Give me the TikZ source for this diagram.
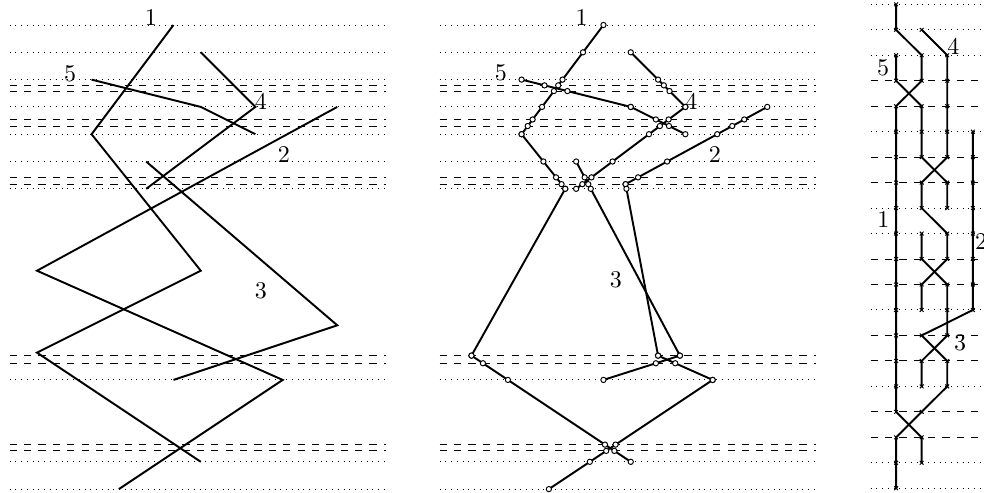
\documentclass[tikz,border=0pt]{standalone}
\tikzset{
  evline/.style={thin, dotted},
  crossline/.style={thin, dashed},
  route/.style={thick},
  ring/.style={thin, fill=white},
  wire/.style={thick, mark=x, mark size=1.1pt, mark options={thin, solid}},
}
% sweep positions: end points (dotted) and the two lines round each crossing (dashed)
\newcommand\evys{0,1,2,3,4,5,6,13,16,17}
\newcommand\crossys{2.21,2.42,3.46,3.70,5.58,5.83,12.11,12.39,15.37,15.60}
\newcommand\sweepys{0,1,2,2.21,2.42,3,3.46,3.70,4,5,5.58,5.83,6,12.11,12.39,13,15.37,15.60,16,17}
% rings where the segment (#1,#2)--(#3,#4) meets a sweep line
\newcommand\ringseg[4]{%
  \foreach \ly in \sweepys {%
    \pgfmathtruncatemacro\onseg{((\ly-(#2))*(\ly-(#4))<0.00001)}%
    \ifnum\onseg=1
      \pgfmathsetmacro\lx{#1+((#3)-(#1))*(\ly-(#2))/((#4)-(#2))}%
      \draw[ring] (\lx,\ly) circle (1.1pt);%
    \fi}}
\begin{document}
\begin{tikzpicture}[x=0.4cm, y=-0.4cm]
  \useasboundingbox (-1.355,-0.916) rectangle (34.69,17.14);
  \clip (-1.355,-0.916) rectangle (34.69,17.14);

  % input polylines
  \foreach \y in \evys \draw[evline] (-1,\y) -- (12.8,\y);
  \foreach \y in \crossys \draw[crossline] (-1,\y) -- (12.8,\y);
  \draw[route] (5,0) -- (2,4) -- (6,9) -- (0,12) -- (6,16);
  \draw[route] (11,3) -- (0,9) -- (9,13) -- (3,17);
  \draw[route] (4,5) -- (11,11) -- (5,13);
  \draw[route] (6,1) -- (8,3) -- (4,6);
  \draw[route] (2,2) -- (6,3) -- (8,4);
  \node (in1) at (4.17,-0.29) {1};
  \node (in2) at (9.04,4.74) {2};
  \node (in3) at (8.2,9.72) {3};
  \node (in4) at (8.2,2.78) {4};
  \node (in5) at (1.21,1.77) {5};

  % polylines bent only on the sweep lines
  \begin{scope}[xshift=6.3cm]
    \foreach \y in \evys \draw[evline] (-1,\y) -- (12.8,\y);
    \foreach \y in \crossys \draw[crossline] (-1,\y) -- (12.8,\y);
    \draw[route] (5,0) -- (2,4) -- (3.6,6) -- (0.165,12.11) -- (6,16);
    \draw[route] (11,3) -- (5.81,5.83) -- (7,12.11) -- (9,13) -- (3,17);
    \draw[route] (4,5) -- (7.8,12.11) -- (5,13);
    \draw[route] (6,1) -- (8,3) -- (4,6);
    \draw[route] (2,2) -- (6,3) -- (8,4);
    \foreach \xa/\ya/\xb/\yb in {5/0/2/4, 2/4/3.6/6, 3.6/6/0.165/12.11, 0.165/12.11/6/16,
        11/3/5.81/5.83, 5.81/5.83/7/12.11, 7/12.11/9/13, 9/13/3/17,
        4/5/7.8/12.11, 7.8/12.11/5/13, 6/1/8/3, 8/3/4/6, 2/2/6/3, 6/3/8/4}
      {\ringseg{\xa}{\ya}{\xb}{\yb}}
    \node (mid1) at (4.2,-0.29) {1};
    \node (mid2) at (9.08,4.74) {2};
    \node (mid3) at (5.45,9.34) {3};
    \node (mid4) at (8.22,2.78) {4};
    \node (mid5) at (1.24,1.75) {5};
  \end{scope}

  % wire diagram: column = rank on each sweep line
  \begin{scope}[shift={(12.213cm,0.3032cm)}, x=0.3748cm, y=-0.3732cm]
    \foreach \r in {0,1,2,5,8,9,12,15,18,19} \draw[evline] (0,\r) -- (5,\r);
    \foreach \r in {3,4,6,7,10,11,13,14,16,17} \draw[crossline] (0,\r) -- (5,\r);
    \draw[wire] plot coordinates {(1,0) (1,1) (2,2) (2,3) (1,4) (1,5) (1,6) (1,7) (1,8) (1,9)
      (1,10) (1,11) (1,12) (1,13) (1,14) (1,15) (1,16) (2,17) (2,18)};
    \draw[wire] plot coordinates {(4,5) (4,6) (4,7) (4,8) (4,9) (4,10) (4,11) (4,12)
      (2,13) (3,14) (3,15) (2,16) (1,17) (1,18) (1,19)};
    \draw[wire] plot coordinates {(2,9) (2,10) (3,11) (3,12) (3,13) (2,14) (2,15)};
    \draw[wire] plot coordinates {(2,1) (3,2) (3,3) (3,4) (3,5) (3,6) (2,7) (2,8) (3,9)
      (3,10) (2,11) (2,12)};
    \draw[wire] plot coordinates {(1,2) (1,3) (2,4) (2,5) (2,6) (3,7) (3,8)};
    \node (w1) at (0.5,8.43) {1};
    \node (w2) at (4.32,9.3) {2};
    \node (w3) at (3.5,13.28) {3};
    \node (w4) at (3.24,1.65) {4};
    \node (w5) at (0.49,2.51) {5};
  \end{scope}
\end{tikzpicture}
\end{document}
